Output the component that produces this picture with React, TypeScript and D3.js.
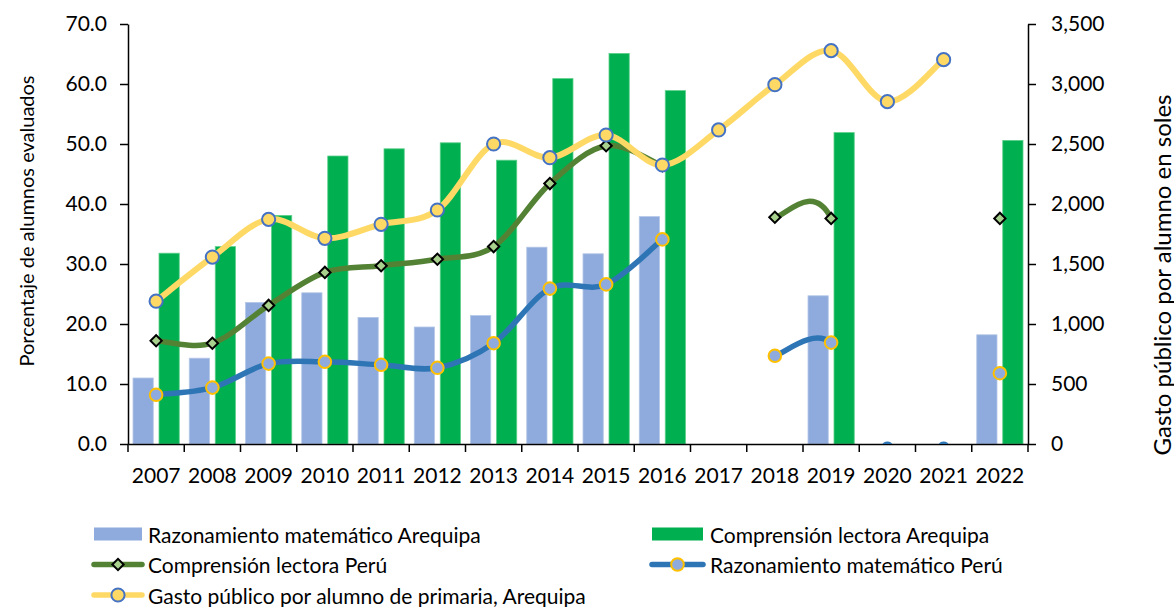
import React, { useEffect, useRef } from 'react';
import * as d3 from 'd3';

const years = ['2007', '2008', '2009', '2010', '2011', '2012', '2013', '2014', '2015', '2016', '2017', '2018', '2019', '2020', '2021', '2022'];
const mathArequipa: (number | null)[] = [11.0, 14.3, 23.6, 25.2, 21.1, 19.5, 21.4, 32.8, 31.7, 37.9, null, null, 24.7, null, null, 18.2];
const readArequipa: (number | null)[] = [31.8, 32.9, 38.1, 48.0, 49.2, 50.2, 47.3, 60.9, 65.1, 58.9, null, null, 51.9, null, null, 50.6];
const readPeru: (number | null)[] = [17.2, 16.8, 23.1, 28.6, 29.7, 30.8, 32.9, 43.4, 49.7, 46.4, null, 37.8, 37.6, 0, 0, 37.6];
const mathPeru: (number | null)[] = [8.2, 9.4, 13.4, 13.7, 13.2, 12.7, 16.8, 25.9, 26.6, 34.1, null, 14.7, 16.9, 0, 0, 11.8];
const spending: (number | null)[] = [1190, 1558, 1872, 1714, 1831, 1950, 2500, 2386, 2575, 2325, 2617, 2994, 3278, 2853, 3203, null];
const leftTicks = [0, 10, 20, 30, 40, 50, 60, 70];
const rightTicks = [0, 500, 1000, 1500, 2000, 2500, 3000, 3500];

const LEG_MATH_AQP = 'Razonamiento matemático Arequipa';
const LEG_READ_AQP = 'Comprensión lectora Arequipa';
const LEG_READ_PERU = 'Comprensión lectora Perú';
const LEG_MATH_PERU = 'Razonamiento matemático Perú';
const LEG_SPEND = 'Gasto público por alumno de primaria, Arequipa';
const Y_LEFT_TITLE = 'Porcentaje de alumnos evaluados';
const Y_RIGHT_TITLE = 'Gasto público por alumno en soles';

const C_MATH_BAR = '#8FAADC';
const C_READ_BAR = '#00B050';
const C_READ_LINE = '#548235';
const C_DIAMOND = '#A9D18E';
const C_MATH_LINE = '#2E75B6';
const C_GOLD = '#FFC000';
const C_SPEND = '#FFD966';
const C_SPEND_MK = '#4472C4';
const FONT = 'Lato, "Open Sans", sans-serif';
const FS = 21;

const W = 1174, H = 607;
const L = 128, R = 1028, T = 24, B = 444;

function smoothPath(vals: (number | null)[], xs: (i: number) => number, ys: (v: number) => number) {
  const ok = (i: number) => i >= 0 && i < vals.length && vals[i] !== null;
  const draw = (i: number) => ok(i) && (vals[i] as number) !== 0;
  const pt = (i: number): [number, number] => [xs(i), ys(vals[i] as number)];
  let d = '';
  let open = false;
  for (let i = 0; i < vals.length - 1; i++) {
    if (draw(i) && draw(i + 1)) {
      const p1 = pt(i), p2 = pt(i + 1);
      const p0 = ok(i - 1) ? pt(i - 1) : p1;
      const p3 = ok(i + 2) ? pt(i + 2) : p2;
      const c1 = [p1[0] + (p2[0] - p0[0]) / 6, p1[1] + (p2[1] - p0[1]) / 6];
      const c2 = [p2[0] - (p3[0] - p1[0]) / 6, p2[1] - (p3[1] - p1[1]) / 6];
      if (!open) d += `M${p1[0]},${p1[1]}`;
      d += `C${c1[0]},${c1[1]} ${c2[0]},${c2[1]} ${p2[0]},${p2[1]}`;
      open = true;
    } else open = false;
  }
  return d;
}

export default function App() {
  const ref = useRef<SVGSVGElement>(null);
  useEffect(() => {
    const svg = d3.select(ref.current);
    svg.selectAll('*').remove();

    const x = d3.scaleBand().domain(years).range([L, R]).padding(0);
    const x1 = d3.scaleBand().domain(['m', 'r']).range([5, x.bandwidth() - 5]).paddingInner(0.221);
    const yL = d3.scaleLinear().domain([0, 70]).range([B, T]);
    const yR = d3.scaleLinear().domain([0, 3500]).range([B, T]);
    const cx = (i: number) => (x(years[i]) as number) + x.bandwidth() / 2;

    svg.append('defs').append('clipPath').attr('id', 'plotclip')
      .append('rect').attr('x', L).attr('y', T - 20).attr('width', R - L).attr('height', B - T + 20);

    // bars
    const bars = svg.append('g');
    const addBars = (vals: (number | null)[], key: string, fill: string, stroke: string) => {
      bars.selectAll(null)
        .data(vals.map((v, i) => ({ v, i })).filter(d => d.v !== null))
        .enter().append('rect')
        .attr('x', d => (x(years[d.i]) as number) + (x1(key) as number))
        .attr('width', x1.bandwidth())
        .attr('y', d => yL(d.v as number))
        .attr('height', d => B - yL(d.v as number))
        .attr('fill', fill)
        .attr('stroke', stroke)
        .attr('stroke-width', 0.8);
    };
    addBars(mathArequipa, 'm', C_MATH_BAR, '#B4C7E7');
    addBars(readArequipa, 'r', C_READ_BAR, '#5ED08A');

    // axes
    const styleAxis = (g: any) => {
      g.attr('font-family', null).attr('font-size', null);
      g.selectAll('path,line').attr('stroke', '#000').attr('stroke-width', 1.5);
      g.selectAll('text').attr('fill', '#000');
    };
    svg.append('g').attr('transform', `translate(${L},0)`)
      .call(d3.axisLeft(yL).tickValues(leftTicks).tickFormat(d3.format('.1f')).tickSizeInner(8).tickSizeOuter(0).tickPadding(13))
      .call(styleAxis);
    svg.append('g').attr('transform', `translate(${R},0)`)
      .call(d3.axisRight(yR).tickValues(rightTicks).tickFormat(d3.format(',')).tickSizeInner(8).tickSizeOuter(0).tickPadding(15))
      .call(styleAxis);
    const xb = svg.append('g').attr('transform', `translate(0,${B})`)
      .call(d3.axisBottom(x).tickSize(0).tickPadding(24))
      .call(styleAxis);
    xb.selectAll(null).data([...years.map(y => x(y) as number), R]).enter().append('line')
      .attr('x1', d => d).attr('x2', d => d).attr('y1', 0).attr('y2', 8)
      .attr('stroke', '#000').attr('stroke-width', 1.5);

    // lines
    const lines = svg.append('g').attr('clip-path', 'url(#plotclip)');
    lines.selectAll(null).data(mathPeru.map((v, i) => ({ v, i })).filter(d => d.v === 0))
      .enter().append('ellipse')
      .attr('cx', d => cx(d.i)).attr('cy', d => yL(d.v as number) + 1)
      .attr('rx', 5).attr('ry', 3.5).attr('fill', C_MATH_LINE);

    const diamond = d3.symbol().type(d3.symbolSquare).size(64);
    const drawSeries = (vals: (number | null)[], ys: (v: number) => number, color: string, width: number,
      marker: (g: any) => void) => {
      lines.append('path').attr('d', smoothPath(vals, cx, ys)).attr('fill', 'none')
        .attr('stroke', color).attr('stroke-width', width).attr('stroke-linecap', 'round').attr('stroke-linejoin', 'round');
      const pts = vals.map((v, i) => ({ v, i })).filter(d => d.v !== null && d.v !== 0);
      const g = lines.append('g');
      marker(g.selectAll(null).data(pts).enter());
    };
    drawSeries(readPeru, yL, C_READ_LINE, 5.5, (e: any) => {
      e.append('path').attr('d', diamond)
        .attr('transform', (d: any) => `translate(${cx(d.i)},${yL(d.v)}) rotate(45)`)
        .attr('fill', C_DIAMOND).attr('stroke', '#000').attr('stroke-width', 2);
    });
    drawSeries(mathPeru, yL, C_MATH_LINE, 5.5, (e: any) => {
      e.append('circle').attr('cx', (d: any) => cx(d.i)).attr('cy', (d: any) => yL(d.v)).attr('r', 6.3)
        .attr('fill', C_MATH_BAR).attr('stroke', C_GOLD).attr('stroke-width', 2);
    });
    drawSeries(spending, yR, C_SPEND, 6, (e: any) => {
      e.append('circle').attr('cx', (d: any) => cx(d.i)).attr('cy', (d: any) => yR(d.v)).attr('r', 6.6)
        .attr('fill', C_SPEND).attr('stroke', C_SPEND_MK).attr('stroke-width', 2);
    });

    // axis titles
    svg.append('text').attr('transform', `translate(26,221) rotate(-90)`)
      .attr('font-size', 20)
      .attr('text-anchor', 'middle').attr('dominant-baseline', 'central').text(Y_LEFT_TITLE);
    svg.append('text').attr('transform', `translate(1161,275) rotate(-90)`)
      .attr('font-size', 24)
      .attr('text-anchor', 'middle').attr('dominant-baseline', 'central').text(Y_RIGHT_TITLE);

    // legend
    const lg = svg.append('g');
    const rows = [534, 564.5, 595];
    const cols = [{ s: 94, e: 142, t: 148 }, { s: 652, e: 703, t: 710 }];
    const addRect = (c: any, y: number, fill: string, label: string) => {
      lg.append('rect').attr('x', c.s).attr('y', y - 6.5).attr('width', c.e - c.s).attr('height', 13).attr('fill', fill);
      lg.append('text').attr('x', c.t).attr('y', y).attr('dominant-baseline', 'central').text(label);
    };
    const addLine = (c: any, y: number, color: string, label: string, mk: (g: any, mx: number) => void) => {
      lg.append('line').attr('x1', c.s).attr('x2', c.e).attr('y1', y).attr('y2', y)
        .attr('stroke', color).attr('stroke-width', 5.5).attr('stroke-linecap', 'round');
      mk(lg, (c.s + c.e) / 2);
      lg.append('text').attr('x', c.t).attr('y', y).attr('dominant-baseline', 'central').text(label);
    };
    addRect(cols[0], rows[0], C_MATH_BAR, LEG_MATH_AQP);
    addRect(cols[1], rows[0], C_READ_BAR, LEG_READ_AQP);
    addLine(cols[0], rows[1], C_READ_LINE, LEG_READ_PERU, (g, mx) => {
      g.append('path').attr('d', diamond).attr('transform', `translate(${mx},${rows[1]}) rotate(45)`)
        .attr('fill', C_DIAMOND).attr('stroke', '#000').attr('stroke-width', 2);
    });
    addLine(cols[1], rows[1], C_MATH_LINE, LEG_MATH_PERU, (g, mx) => {
      g.append('circle').attr('cx', mx).attr('cy', rows[1]).attr('r', 6.3)
        .attr('fill', C_MATH_BAR).attr('stroke', C_GOLD).attr('stroke-width', 2);
    });
    addLine(cols[0], rows[2], C_SPEND, LEG_SPEND, (g, mx) => {
      g.append('circle').attr('cx', mx).attr('cy', rows[2]).attr('r', 6.6)
        .attr('fill', C_SPEND).attr('stroke', C_SPEND_MK).attr('stroke-width', 2);
    });
  }, []);

  return (
    <svg ref={ref} width={W} height={H}
      style={{ position: 'absolute', left: 0, top: 0, background: '#fff', fontFamily: FONT, fontSize: FS, fill: '#000' }} />
  );
}
